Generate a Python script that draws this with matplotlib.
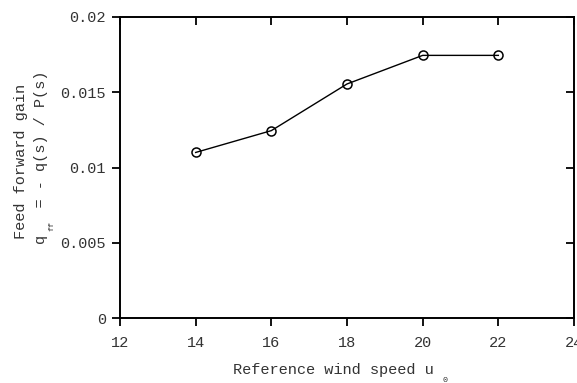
import matplotlib
matplotlib.use("Agg")
import matplotlib.pyplot as plt

plt.rcParams['font.family'] = ['Liberation Mono', 'DejaVu Sans Mono']

wind_speed = [14, 16, 18, 20, 22]
ff_gain = [0.0110, 0.01245, 0.01555, 0.01745, 0.01745]
x_ticks = [12, 14, 16, 18, 20, 22, 24]
y_ticks = [0, 0.005, 0.01, 0.015, 0.02]
y_tick_labels = ['0', '0.005', '0.01', '0.015', '0.02']

W, H, dpi = 577, 383, 100
fig = plt.figure(figsize=(W / dpi, H / dpi), dpi=dpi)
ax = fig.add_axes([120 / W, 1 - 318 / H, (574 - 120) / W, (318 - 17) / H])

ax.plot(wind_speed, ff_gain, color='black', lw=1.0, marker='o', ms=6.5,
        mfc='none', mec='black', mew=1.1)

ax.set_xlim(12, 24)
ax.set_ylim(0, 0.02)
ax.set_xticks(x_ticks)
ax.set_yticks(y_ticks)
ax.set_yticklabels(y_tick_labels)

fs = 11
tc = '#333333'
ax.tick_params(axis='both', which='both', direction='out', length=6, width=1.3,
               labelsize=fs, color='black', labelcolor=tc, pad=4)
ax.tick_params(axis='x', pad=7)
ax.tick_params(top=True, right=True)
for t in ax.xaxis.get_major_ticks():
    t.tick2line.set_marker(matplotlib.lines.TICKDOWN)
for t in ax.yaxis.get_major_ticks():
    t.tick2line.set_marker(matplotlib.lines.TICKLEFT)
for s in ax.spines.values():
    s.set_linewidth(1.4)

# axis labels with hand-placed subscripts
px = lambda x, y: (x / W, 1 - y / H)
fig.text(*px(333, 370), 'Reference wind speed u', ha='center', va='center',
         fontsize=fs, color=tc)
fig.text(*px(445, 381), '0', ha='center', va='center', fontsize=6, color=tc)
fig.text(*px(21, 161), 'Feed forward gain', ha='center', va='center',
         rotation=90, fontsize=fs, color=tc)
fig.text(*px(41, 157), 'q   = - q(s) / P(s)', ha='center', va='center',
         rotation=90, fontsize=fs, color=tc)
fig.text(*px(52, 226), 'ff', ha='center', va='center', rotation=90,
         fontsize=6, color=tc)

fig.savefig('out.png', dpi=dpi)
